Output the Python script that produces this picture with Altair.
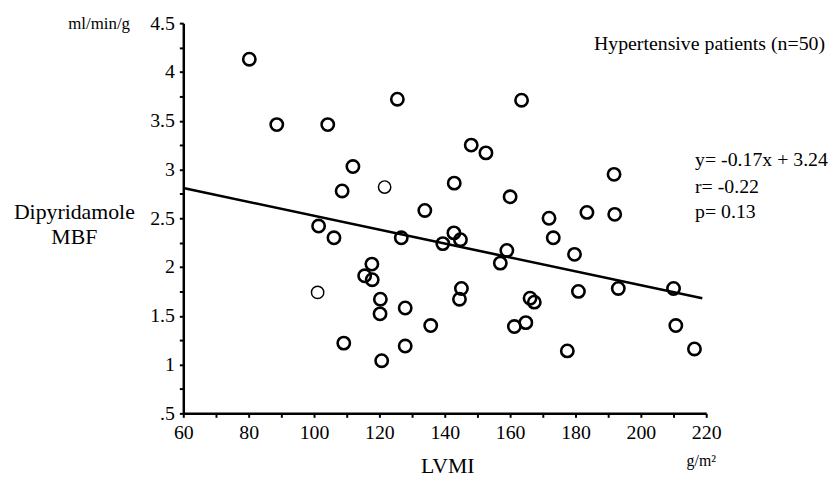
import altair as alt
import pandas as pd

# LVMI (g/m^2) and dipyridamole MBF (ml/min/g)
lvmi = [80.2, 88.6, 104.2, 125.5, 148.1, 152.6, 111.9, 108.6, 121.6, 142.9,
        163.5, 191.8, 160.0, 133.9, 101.4, 106.1, 126.7, 139.4, 117.7, 115.5,
        117.8, 101.1, 120.3, 120.2, 127.9, 135.7, 109.1, 127.9, 120.7, 171.9,
        183.5, 192.0, 142.8, 144.8, 173.2, 159.0, 157.0, 179.7, 145.1, 144.5,
        166.1, 167.4, 180.9, 193.1, 210.0, 161.3, 164.8, 210.7, 177.5, 216.4]
mbf = [4.13, 3.46, 3.46, 3.72, 3.25, 3.17, 3.03, 2.78, 2.82, 2.86,
       3.71, 2.95, 2.72, 2.58, 2.42, 2.30, 2.30, 2.24, 2.03, 1.91,
       1.87, 1.74, 1.67, 1.52, 1.58, 1.40, 1.22, 1.19, 1.04, 2.50,
       2.56, 2.54, 2.35, 2.28, 2.30, 2.17, 2.04, 2.13, 1.78, 1.67,
       1.68, 1.64, 1.75, 1.78, 1.78, 1.39, 1.43, 1.40, 1.14, 1.16]
light_points = [8, 21]  # indices of the fainter circles

fit_x = [60, 218.8]
fit_y = [2.81, 1.68]

x_ticks = list(range(60, 221, 10))
y_ticks = [0.5 + 0.25 * i for i in range(17)]

stats_lines = ["y= -0.17x + 3.24", "r= -0.22", "p= 0.13"]

FONT = "Liberation Serif"

df = pd.DataFrame({"lvmi": lvmi, "mbf": mbf})
df["faint"] = [i in light_points for i in range(len(df))]
fit = pd.DataFrame({"lvmi": fit_x, "mbf": fit_y})

xscale = alt.Scale(domain=[60, 220], nice=False, zero=False)
yscale = alt.Scale(domain=[0.5, 4.5], nice=False, zero=False)

axis_style = dict(
    grid=False, title=None,
    domainColor="black", domainWidth=2.5,
    tickColor="black", tickWidth=2, tickSize=4,
    labelPadding=5, labelFont=FONT, labelFontSize=20, labelColor="black",
    labelFlush=False,
)
xaxis = alt.Axis(values=x_ticks,
                 labelExpr="datum.value % 20 == 0 ? '' + datum.value : ''",
                 **axis_style)
yaxis = alt.Axis(values=y_ticks,
                 labelExpr="datum.value == 0.5 ? '.5' : ((datum.value * 2) % 1 == 0 ? '' + datum.value : '')",
                 **axis_style)

X = alt.X("lvmi:Q", scale=xscale, axis=xaxis)
Y = alt.Y("mbf:Q", scale=yscale, axis=yaxis)

line = alt.Chart(fit).mark_line(color="black", strokeWidth=2.6).encode(x=X, y=Y)

points = alt.Chart(df).mark_point(
    shape="circle", filled=False, color="black", size=155, opacity=1
).encode(
    x=X, y=Y,
    strokeWidth=alt.condition("datum.faint", alt.value(1.5), alt.value(2.6)),
)

data_layer = alt.layer(line, points)


def label(text, x, y, size, align="center"):
    return alt.Chart(pd.DataFrame({"t": [text]})).mark_text(
        font=FONT, fontSize=size, color="black", align=align, baseline="middle"
    ).encode(text="t:N", x=alt.value(x), y=alt.value(y))


texts = alt.layer(
    label("ml/min/g", -85, 1, 17),
    label("Hypertensive patients (n=50)", 648, 21, 20, "right"),
    label(stats_lines[0], 516.7, 138, 20, "left"),
    label(stats_lines[1], 516.7, 165, 20, "left"),
    label(stats_lines[2], 516.7, 191, 20, "left"),
    label("Dipyridamole", -110, 191, 22),
    label("MBF", -110, 216, 22),
    label("LVMI", 267, 447, 22),
    label("g/m²", 523, 442, 16),
)

chart = alt.layer(data_layer, texts).properties(
    width=528, height=394,
    autosize=alt.AutoSizeParams(type="none"),
    padding={"left": 177, "top": 13, "right": 127, "bottom": 65},
    background="white",
).configure_view(strokeWidth=0)

chart.save("out.html", embed_options={"renderer": "svg", "actions": False})
